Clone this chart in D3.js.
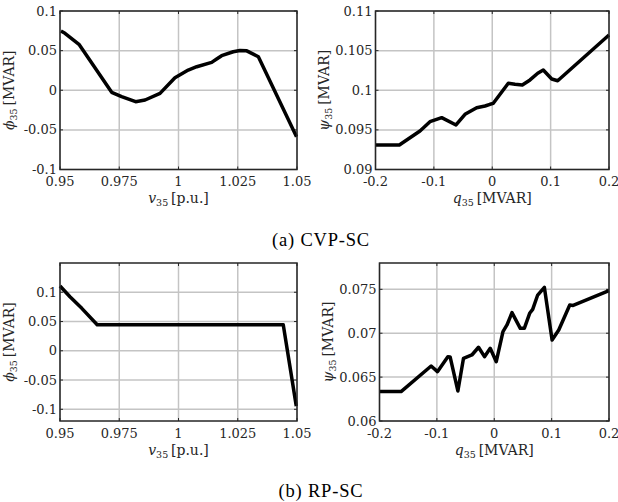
<!DOCTYPE html>
<html>
<head>
<meta charset="utf-8">
<script src="https://cdn.jsdelivr.net/npm/d3@7"></script>
<style>
  body { margin: 0; background: #fff; }
  svg { display: block; font-family: "DejaVu Serif", serif; }
</style>
</head>
<body>
<svg id="fig" width="618" height="502"></svg>
<script>
// (a) CVP-SC : phi_35 vs v_35
var cvpPhi = [[0.9504,0.0748],[0.9521,0.0719],[0.958,0.058],[0.9718,-0.0026],[0.976,-0.0081],
  [0.9819,-0.0144],[0.9859,-0.0123],[0.9922,-0.0039],[0.9985,0.0158],[1.0041,0.0255],
  [1.0077,0.0297],[1.014,0.0352],[1.0161,0.0394],[1.0182,0.0436],[1.0231,0.0486],
  [1.0259,0.0502],[1.0288,0.0497],[1.0337,0.0423],[1.0498,-0.0586]];
// (a) CVP-SC : psi_35 vs q_35
var cvpPsi = [[-0.2,0.09309],[-0.1592,0.09309],[-0.1238,0.09486],[-0.1067,0.09603],[-0.0866,0.09654],
  [-0.0621,0.09562],[-0.0467,0.09696],[-0.0267,0.0978],[-0.0124,0.09801],[-0.0039,0.09823],
  [0.0018,0.09835],[0.0275,0.10088],[0.039,0.10075],[0.0515,0.10066],[0.0647,0.1013],
  [0.0779,0.10214],[0.0874,0.10255],[0.1019,0.10142],[0.1121,0.1012],[0.2,0.10697]];
// (b) RP-SC : phi_35 vs v_35
var rpPhi = [[0.95,0.1107],[0.9542,0.0924],[0.9592,0.0725],[0.9657,0.0445],[1.0442,0.0445],[1.0497,-0.0946]];
// (b) RP-SC : psi_35 vs q_35
var rpPsi = [[-0.2,0.06335],[-0.1624,0.06335],[-0.110,0.06627],[-0.099,0.06562],[-0.0809,0.06733],
  [-0.0769,0.0673],[-0.0634,0.06342],[-0.0536,0.06714],[-0.039,0.06752],[-0.0274,0.0684],
  [-0.017,0.06733],[-0.007,0.06828],[0.0035,0.06676],[0.0152,0.07017],[0.0222,0.07094],
  [0.0309,0.07234],[0.0454,0.07056],[0.0524,0.07056],[0.0617,0.07227],[0.067,0.07272],
  [0.0757,0.07435],[0.0874,0.07522],[0.1008,0.06923],[0.1124,0.07037],[0.1316,0.07322],
  [0.1375,0.07316],[0.2,0.07484]];

var vTicks = [0.95, 0.975, 1, 1.025, 1.05];
var vTickLabels = ["0.95", "0.975", "1", "1.025", "1.05"];
var qTicks = [-0.2, -0.1, 0, 0.1, 0.2];
var qTickLabels = ["-0.2", "-0.1", "0", "0.1", "0.2"];
var phiTicks = [-0.1, -0.05, 0, 0.05, 0.1];
var phiTickLabels = ["-0.1", "-0.05", "0", "0.05", "0.1"];
var psiTicksA = [0.09, 0.095, 0.1, 0.105, 0.11];
var psiTickLabelsA = ["0.09", "0.095", "0.1", "0.105", "0.11"];
var psiTicksB = [0.06, 0.065, 0.07, 0.075];
var psiTickLabelsB = ["0.06", "0.065", "0.07", "0.075"];
var captions = ["(a) CVP-SC", "(b) RP-SC"];

var svg = d3.select("#fig");
var ink = "#262626";
var fs = 13;     // tick labels
var lfs = 14;    // axis titles

function drawPanel(p) {
    var x = d3.scaleLinear().domain(p.xDom).range([p.x0, p.x1]);
    var y = d3.scaleLinear().domain(p.yDom).range([p.y1, p.y0]);
    var g = svg.append("g");

    // grid
    g.selectAll(".gx").data(p.xTicks).enter().append("line")
        .attr("x1", d => x(d)).attr("x2", d => x(d))
        .attr("y1", p.y0).attr("y2", p.y1)
        .attr("stroke", "#c4c4c4").attr("stroke-width", 1.5);
    g.selectAll(".gy").data(p.yTicks).enter().append("line")
        .attr("x1", p.x0).attr("x2", p.x1)
        .attr("y1", d => y(d)).attr("y2", d => y(d))
        .attr("stroke", "#c4c4c4").attr("stroke-width", 1.5);

    // inward ticks
    var tl = 3;
    p.xTicks.forEach(function(d) {
        g.append("line").attr("x1", x(d)).attr("x2", x(d)).attr("y1", p.y1).attr("y2", p.y1 - tl)
            .attr("stroke", ink).attr("stroke-width", 1);
        g.append("line").attr("x1", x(d)).attr("x2", x(d)).attr("y1", p.y0).attr("y2", p.y0 + tl)
            .attr("stroke", ink).attr("stroke-width", 1);
    });
    p.yTicks.forEach(function(d) {
        g.append("line").attr("x1", p.x0).attr("x2", p.x0 + tl).attr("y1", y(d)).attr("y2", y(d))
            .attr("stroke", ink).attr("stroke-width", 1);
        g.append("line").attr("x1", p.x1).attr("x2", p.x1 - tl).attr("y1", y(d)).attr("y2", y(d))
            .attr("stroke", ink).attr("stroke-width", 1);
    });

    // the curve
    g.append("path")
        .datum(p.data)
        .attr("fill", "none")
        .attr("stroke", "#000")
        .attr("stroke-width", 3.5)
        .attr("stroke-linejoin", "round")
        .attr("d", d3.line().x(d => x(d[0])).y(d => y(d[1])));

    // box
    g.append("rect")
        .attr("x", p.x0).attr("y", p.y0)
        .attr("width", p.x1 - p.x0).attr("height", p.y1 - p.y0)
        .attr("fill", "none").attr("stroke", ink).attr("stroke-width", 1.5);

    // tick labels
    g.selectAll(".xl").data(p.xTicks).enter().append("text")
        .attr("x", d => x(d)).attr("y", p.y1 + 16.5)
        .attr("text-anchor", "middle").attr("font-size", fs).attr("fill", ink)
        .text((d, i) => p.xLabels[i]);
    g.selectAll(".yl").data(p.yTicks).enter().append("text")
        .attr("x", p.x0 - 3).attr("y", d => y(d) + 4.5)
        .attr("text-anchor", "end").attr("font-size", fs).attr("fill", ink)
        .text((d, i) => p.yLabels[i]);

    // axis titles
    var xt = g.append("text")
        .attr("x", (p.x0 + p.x1) / 2).attr("y", p.y1 + 33.5)
        .attr("text-anchor", "middle").attr("font-size", lfs).attr("fill", ink);
    mathLabel(xt, p.xSym, p.xUnit);

    var yt = g.append("text")
        .attr("transform", "translate(" + (p.x0 - p.yOff) + "," + ((p.y0 + p.y1) / 2) + ") rotate(-90)")
        .attr("text-anchor", "middle").attr("font-size", lfs).attr("fill", ink);
    mathLabel(yt, p.ySym, p.yUnit);
}

function mathLabel(t, sym, unit) {
    t.append("tspan").attr("font-style", "italic").text(sym);
    t.append("tspan").attr("font-size", 9.5).attr("dy", 3).text("35");
    t.append("tspan").attr("dy", -3).text("\u2009" + unit);
}

drawPanel({ x0: 60, x1: 297, y0: 11, y1: 169.5, xDom: [0.95, 1.05], yDom: [-0.1, 0.1],
    xTicks: vTicks, xLabels: vTickLabels, yTicks: phiTicks, yLabels: phiTickLabels,
    data: cvpPhi, xSym: "v", xUnit: "[p.u.]", ySym: "\u03d5", yUnit: "[MVAR]", yOff: 46 });
drawPanel({ x0: 375.5, x1: 609, y0: 11, y1: 169.5, xDom: [-0.2, 0.2], yDom: [0.09, 0.11],
    xTicks: qTicks, xLabels: qTickLabels, yTicks: psiTicksA, yLabels: psiTickLabelsA,
    data: cvpPsi, xSym: "q", xUnit: "[MVAR]", ySym: "\u03c8", yUnit: "[MVAR]", yOff: 47 });
drawPanel({ x0: 60, x1: 297, y0: 263, y1: 421, xDom: [0.95, 1.05], yDom: [-0.12, 0.15],
    xTicks: vTicks, xLabels: vTickLabels, yTicks: phiTicks, yLabels: phiTickLabels,
    data: rpPhi, xSym: "v", xUnit: "[p.u.]", ySym: "\u03d5", yUnit: "[MVAR]", yOff: 46 });
drawPanel({ x0: 379.5, x1: 609, y0: 263, y1: 421, xDom: [-0.2, 0.2], yDom: [0.06, 0.078],
    xTicks: qTicks, xLabels: qTickLabels, yTicks: psiTicksB, yLabels: psiTickLabelsB,
    data: rpPsi, xSym: "q", xUnit: "[MVAR]", ySym: "\u03c8", yUnit: "[MVAR]", yOff: 47 });

svg.selectAll(".cap").data(captions).enter().append("text")
    .attr("x", 321).attr("y", (d, i) => i ? 497 : 246)
    .attr("text-anchor", "middle").attr("font-size", 18.5).attr("fill", "#000")
    .attr("letter-spacing", 0.8)
    .attr("font-family", "'Liberation Serif', serif")
    .text(d => d);
</script>
</body>
</html>
